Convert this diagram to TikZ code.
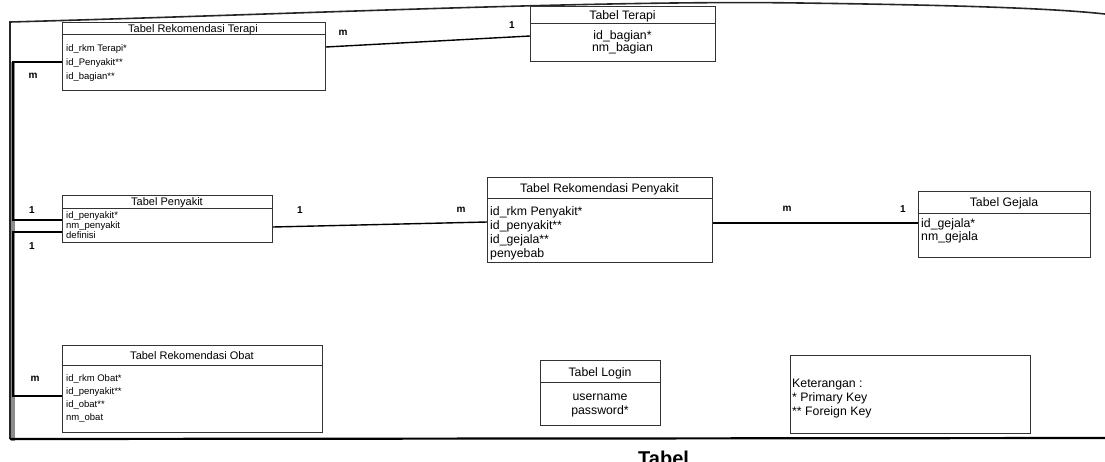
\documentclass[tikz,border=0pt]{standalone}
\usepackage{fontspec}
\setmainfont{Liberation Sans}
\begin{document}
\begin{tikzpicture}[x=1pt,y=-1pt,
  tbl/.style={draw=black!80, line width=0.8pt, rectangle, inner sep=0pt, anchor=north west},
  sepl/.style={draw=black!80, line width=0.8pt},
  hdr/.style={font=\fontsize{12.3}{15}\selectfont, inner sep=0pt, anchor=base},
  row/.style={font=\fontsize{12.3}{15}\selectfont, inner sep=0pt, anchor=base west},
  rowc/.style={font=\fontsize{12.3}{15}\selectfont, inner sep=0pt, anchor=base},
  shdr/.style={font=\fontsize{11}{13}\selectfont, inner sep=0pt, anchor=base},
  srow/.style={font=\fontsize{9.5}{11}\selectfont, inner sep=0pt, anchor=base west},
  card/.style={font=\fontsize{10}{12}\selectfont\bfseries, inner sep=0pt},
  conn/.style={draw=black, line width=1.4pt},
  frame/.style={draw=black!85, line width=1.6pt}]
\useasboundingbox (0,0) rectangle (1105,461);

% outer frame
\draw[frame] (10,439) -- (10,22) .. controls (300,14) and (600,0) .. (800,3)
  .. controls (950,5) and (1050,8) .. (1105,14);
\draw[draw=black!45, line width=3.2pt] (13,62) -- (13,441);
\draw[draw=black, line width=2.2pt] (10,439) -- (1105,438);

% Tabel Rekomendasi Terapi
\node[tbl, minimum width=263pt, minimum height=68pt] (rt) at (62,22) {};
\draw[sepl] (rt.west |- 0,34) -- (rt.east |- 0,34);
\node[shdr] (rth) at (193,32) {Tabel Rekomendasi Terapi};
\node[srow] (rt1) at (66,51.5) {id\_rkm Terapi*};
\node[srow] (rt2) at (66,65.5) {id\_Penyakit**};
\node[srow] (rt3) at (66,79.5) {id\_bagian**};

% Tabel Terapi
\node[tbl, minimum width=185pt, minimum height=55pt] (tt) at (530,6) {};
\draw[sepl] (tt.west |- 0,23) -- (tt.east |- 0,23);
\node[rowc] (tth) at (622.5,19.5) {Tabel Terapi};
\node[rowc] (tt1) at (622.5,39.5) {id\_bagian*};
\node[rowc] (tt2) at (622.5,51.5) {nm\_bagian};

% Tabel Penyakit
\node[tbl, minimum width=210pt, minimum height=47pt] (py) at (62,195) {};
\draw[sepl] (py.west |- 0,208) -- (py.east |- 0,208);
\node[shdr] (pyh) at (167,205.5) {Tabel Penyakit};
\node[srow] (py1) at (66,218.5) {id\_penyakit*};
\node[srow] (py2) at (66,228.5) {nm\_penyakit};
\node[srow] (py3) at (66,238.5) {definisi};

% Tabel Rekomendasi Penyakit
\node[tbl, minimum width=225pt, minimum height=85pt] (rp) at (487,177) {};
\draw[sepl] (rp.west |- 0,198) -- (rp.east |- 0,198);
\node[hdr] (rph) at (599.5,192.5) {Tabel Rekomendasi Penyakit};
\node[row] (rp1) at (490,215.5) {id\_rkm Penyakit*};
\node[row] (rp2) at (490,229.5) {id\_penyakit**};
\node[row] (rp3) at (490,243.5) {id\_gejala**};
\node[row] (rp4) at (490,257.5) {penyebab};

% Tabel Gejala
\node[tbl, minimum width=172pt, minimum height=66pt] (gj) at (918,191) {};
\draw[sepl] (gj.west |- 0,213) -- (gj.east |- 0,213);
\node[hdr] (gjh) at (1004,206) {Tabel Gejala};
\node[row] (gj1) at (921,227) {id\_gejala*};
\node[row] (gj2) at (921,240.5) {nm\_gejala};

% Tabel Rekomendasi Obat
\node[tbl, minimum width=260pt, minimum height=87pt] (ro) at (62,345) {};
\draw[sepl] (ro.west |- 0,365) -- (ro.east |- 0,365);
\node[shdr] (roh) at (192,359) {Tabel Rekomendasi Obat};
\node[srow] (ro1) at (66,381.5) {id\_rkm Obat*};
\node[srow] (ro2) at (66,394.5) {id\_penyakit**};
\node[srow] (ro3) at (66,407.5) {id\_obat**};
\node[srow] (ro4) at (66,420.5) {nm\_obat};

% Tabel Login
\node[tbl, minimum width=120pt, minimum height=65pt] (lg) at (540,360) {};
\draw[sepl] (lg.west |- 0,382) -- (lg.east |- 0,382);
\node[rowc] (lgh) at (600,376.5) {Tabel Login};
\node[rowc] (lg1) at (600,400) {username};
\node[rowc] (lg2) at (600,414) {password*};

% Keterangan
\node[tbl, minimum width=240pt, minimum height=78pt] (kt) at (790,355) {};
\node[row] (kt1) at (792,387) {Keterangan :};
\node[row] (kt2) at (792,401) {* Primary Key};
\node[row] (kt3) at (792,415) {** Foreign Key};

% connectors
\coordinate (j1) at (13,62);
\coordinate (j2) at (13,220);
\coordinate (j3) at (13,232);
\coordinate (j4) at (13,396);
\draw[conn] (rt.west |- j1) -- (j1) -- (j2) -- (py.west |- j2);
\draw[conn] (py.west |- j3) -- (j3) -- (j4) -- (ro.west |- j4);
\draw[conn] (rt.east |- 0,47) -- (tt.west |- 0,36);
\draw[conn] (py.east |- 0,227) -- (rp.west |- 0,222);
\draw[conn] (rp.east |- 0,223) -- (gj.west |- 0,223);

% cardinalities
\node[card] (c1) at (33,76) {m};
\node[card] (c2) at (32,210) {1};
\node[card] (c3) at (32,246) {1};
\node[card] (c4) at (35,379) {m};
\node[card] (c5) at (343,33) {m};
\node[card] (c6) at (512,25) {1};
\node[card] (c7) at (300,210) {1};
\node[card] (c8) at (461,210) {m};
\node[card] (c9) at (787,209) {m};
\node[card] (c10) at (903,209) {1};

% partly visible caption
\node[font=\fontsize{20}{22}\selectfont\bfseries, anchor=base west, inner sep=0pt] (cap) at (638,465) {Tabel};
\end{tikzpicture}
\end{document}
